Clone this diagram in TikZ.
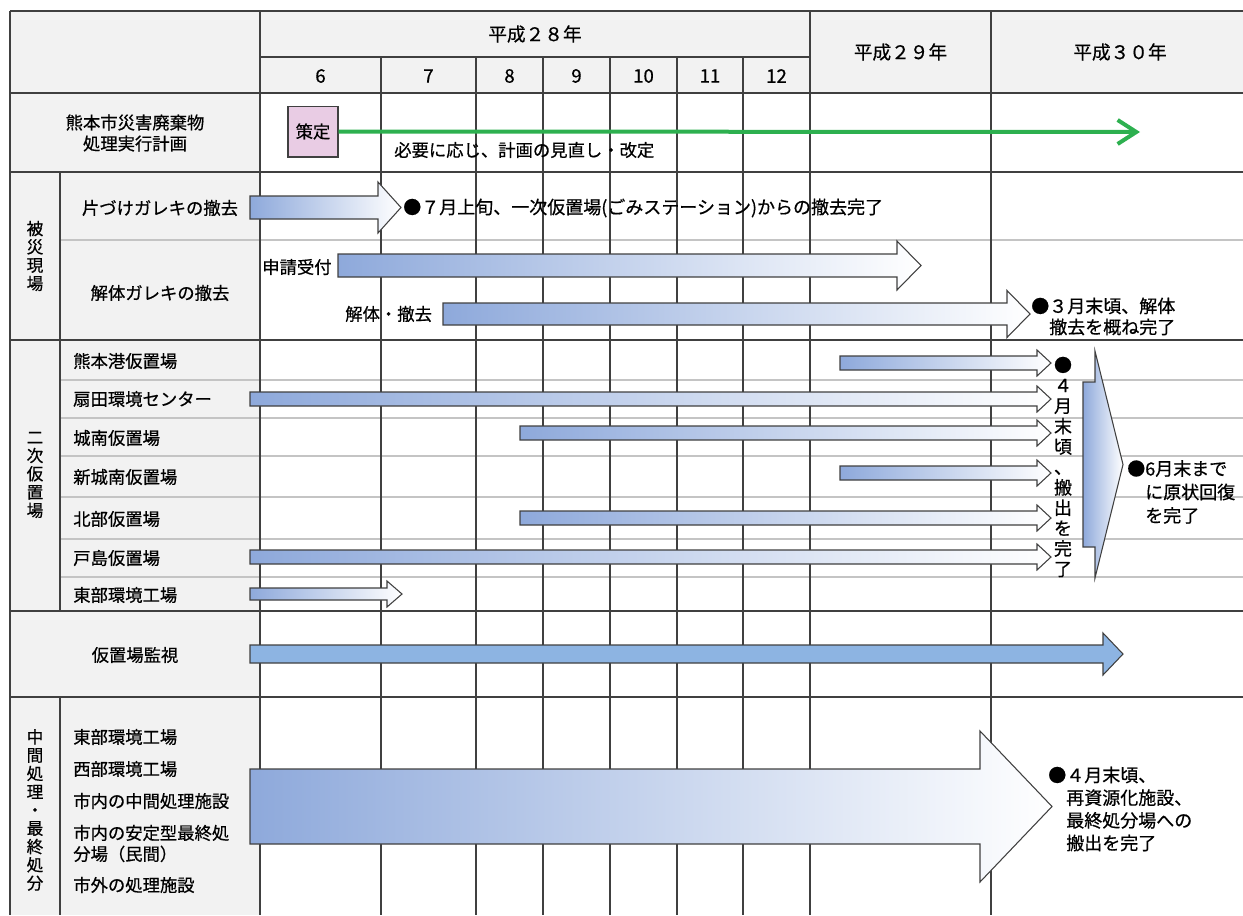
\documentclass[tikz,border=0pt]{standalone}
\usepackage{fontspec}
\setmainfont{Noto Sans CJK JP}[FakeBold=0.6]
\usepackage{xcolor}
\usepackage{tikz}
\usetikzlibrary{arrows.meta, positioning, calc}

\definecolor{panelgray}{HTML}{F2F2F2}
\definecolor{ruledark}{HTML}{404040}
\definecolor{rulelight}{HTML}{C4C4C4}
\definecolor{barblue}{HTML}{8EA9DB}
\definecolor{monitorblue}{HTML}{8DB4E2}
\definecolor{plangreen}{HTML}{2DB04F}
\definecolor{planpink}{HTML}{E9CCE4}

% #1 style, #2 start x, #3 tip x, #4 centre y, #5 shaft half, #6 head half, #7 head length
\newcommand{\blockarrow}[7][gradbar]{%
  \draw[#1] (#2,#4-#5) -- (#3-#7,#4-#5) -- (#3-#7,#4-#6) -- (#3,#4)
    -- (#3-#7,#4+#6) -- (#3-#7,#4+#5) -- (#2,#4+#5) -- cycle;}

\begin{document}
\begin{tikzpicture}[x=0.75pt, y=-0.75pt,
    mainline/.style={draw=ruledark, line width=1.2pt},
    thinline/.style={draw=rulelight, line width=0.8pt},
    gradbar/.style={draw=ruledark, line width=0.8pt, left color=barblue, right color=white},
    solidbar/.style={draw=ruledark, line width=0.8pt, fill=monitorblue},
    hdrtext/.style={font=\fontsize{14}{16}\selectfont, inner sep=0pt},
    rowlabel/.style={font=\fontsize{13}{15.75}\selectfont, align=center, inner sep=0pt},
    itemlabel/.style={font=\fontsize{13}{15.75}\selectfont, anchor=west, align=left, inner sep=0pt},
    vlabel/.style={font=\fontsize{12.5}{13.7}\selectfont, align=center, inner sep=0pt},
    notetext/.style={font=\fontsize{13.5}{15.75}\selectfont, anchor=west, align=left, inner sep=0pt}]

    \useasboundingbox (0,0) rectangle (1243,915);

    % panels
    \fill[panelgray] (10,11) rectangle (260,915);
    \fill[panelgray] (260,11) rectangle (1243,93);

    % rules
    \foreach \y in {240,380,418,456,497,539,577}
        \draw[thinline] (60,\y) -- (1243,\y);
    \foreach \y in {11,93,172,340,611,697}
        \draw[mainline] (10,\y) -- (1243,\y);
    \draw[mainline] (260,57) -- (810,57);
    \foreach \x in {10,260,810,991}
        \draw[mainline] (\x,11) -- (\x,915);
    \foreach \x in {381,476,543,610,677,743}
        \draw[mainline] (\x,57) -- (\x,915);
    \draw[mainline] (60,172) -- (60,611);
    \draw[mainline] (60,697) -- (60,915);

    % header
    \node[hdrtext] (y28) at (535,34) {平成２８年};
    \node[hdrtext] (y29) at (900.5,52) {平成２９年};
    \node[hdrtext] (y30) at (1120,52) {平成３０年};
    \foreach \m/\x in {6/320.5, 7/428.5, 8/509.5, 9/576.5, 10/643.5, 11/710, 12/776.5}
        \node[hdrtext] (m\m) at (\x,76) {\m};

    % left labels
    \node[rowlabel] (plan) at (135,133) {熊本市災害廃棄物\\処理実行計画};
    \node[vlabel] (hisai) at (35,256) {被\\災\\現\\場};
    \node[rowlabel] (katazuke) at (160,208) {片づけガレキの撤去};
    \node[rowlabel] (kaitai) at (160,293) {解体ガレキの撤去};
    \node[vlabel] (niji) at (35,475) {二\\次\\仮\\置\\場};
    \foreach \n/\t/\y in {kumamotoko/熊本港仮置場/361, ogita/扇田環境センター/399,
        jonan/城南仮置場/438, shinjonan/新城南仮置場/477, hokubu/北部仮置場/519,
        toshima/戸島仮置場/558, tobu/東部環境工場/595}
        \node[itemlabel] (\n) at (73,\y) {\t};
    \node[rowlabel] (kanshi) at (135,655) {仮置場監視};
    \node[vlabel] (chukan) at (35,810) {中\\間\\処\\理\\・\\最\\終\\処\\分};
    \node[itemlabel] (tobukojo) at (73,737) {東部環境工場};
    \node[itemlabel] (seibu) at (73,769) {西部環境工場};
    \node[itemlabel] (shinai) at (73,801) {市内の中間処理施設};
    \node[itemlabel] (anteigata) at (73,843.5) {市内の安定型最終処\\分場（民間）};
    \node[itemlabel] (shigai) at (73,885) {市外の処理施設};

    % plan row
    \node[draw=ruledark, line width=1pt, fill=planpink, minimum width=37.5pt,
        minimum height=38pt, inner sep=0pt, font=\fontsize{13}{15}\selectfont] (sakutei) at (313,131.5) {策定};
    \coordinate (planend) at (1140,132);
    \draw[plangreen, line width=3pt, -{Straight Barb[length=14pt, width=18pt]}] (sakutei.east) -- (planend);
    \node[notetext, font=\fontsize{13}{15}\selectfont] (review) at (394,150) {必要に応じ、計画の見直し・改定};

    % arrows
    \blockarrow{250}{401}{207.5}{11.5}{25.5}{23}
    \blockarrow{338}{921}{265.5}{11.5}{24.5}{24}
    \blockarrow{443}{1030}{314}{11}{23.5}{23}
    \foreach \xs/\yc in {840/363, 250/399, 520/433, 840/473, 520/518, 250/557}
        {\blockarrow{\xs}{1051}{\yc}{7}{13}{14}}
    \blockarrow{250}{402}{594}{6}{13}{15}
    \blockarrow{1083}{1123}{464.5}{82.5}{113.5}{28}
    \blockarrow[solidbar]{250}{1123}{654}{9}{21}{20}
    \blockarrow{250}{1052}{806.5}{37.5}{75.5}{72}

    % notes
    \node[notetext] (katazukedone) at (403,208) {●７月上旬、一次仮置場(ごみステーション)からの撤去完了};
    \node[itemlabel] (shinsei) at (262,267) {申請受付};
    \node[itemlabel] (tekkyo) at (345,314) {解体・撤去};
    \node[notetext] (kaitaidone) at (1031,316.5) {●３月末頃、解体\\\hphantom{●}撤去を概ね完了};
    \node[notetext, anchor=center, align=center, font=\fontsize{13.5}{15.3}\selectfont] (nijidone) at (1063,467)
        {●\\４\\月\\末\\頃\\、\\搬\\出\\を\\完\\了};
    \node[notetext, font=\fontsize{13.5}{17.6}\selectfont] (genjo) at (1127,492)
        {●6月末まで\\\hphantom{●}に原状回復\\\hphantom{●}を完了};
    \node[notetext, font=\fontsize{13.5}{17}\selectfont] (chukandone) at (1048,809)
        {●４月末頃、\\\hphantom{●}再資源化施設、\\\hphantom{●}最終処分場への\\\hphantom{●}搬出を完了};
\end{tikzpicture}
\end{document}
